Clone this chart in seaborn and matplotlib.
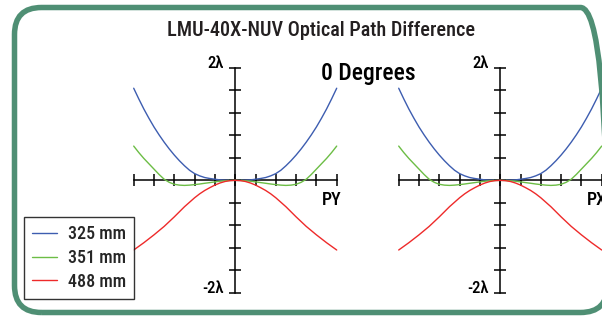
import numpy as np
import pandas as pd
import matplotlib
matplotlib.use("Agg")
import matplotlib.pyplot as plt
import seaborn as sns
from matplotlib.patches import FancyBboxPatch
from matplotlib.lines import Line2D
from matplotlib import font_manager

# ---------------- data ----------------
pupil = [-1.0, -0.95, -0.9, -0.85, -0.8, -0.75, -0.7, -0.65, -0.6, -0.55, -0.5,
         -0.45, -0.4, -0.35, -0.3, -0.25, -0.2, -0.15, -0.1, -0.05, 0.0,
         0.05, 0.1, 0.15, 0.2, 0.25, 0.3, 0.35, 0.4, 0.45, 0.5,
         0.55, 0.6, 0.65, 0.7, 0.75, 0.8, 0.85, 0.9, 0.95, 1.0]
wavelengths = ["325 mm", "351 mm", "488 mm"]
opd_325 = [1.64, 1.45, 1.27, 1.105, 0.95, 0.81, 0.68, 0.56, 0.45, 0.35, 0.26,
           0.18, 0.12, 0.08, 0.05, 0.033, 0.02, 0.008, 0.003, 0.0, 0.0,
           0.0, 0.003, 0.008, 0.02, 0.033, 0.05, 0.08, 0.12, 0.18, 0.26,
           0.35, 0.45, 0.56, 0.68, 0.81, 0.95, 1.105, 1.27, 1.45, 1.64]
opd_351 = [0.61, 0.495, 0.39, 0.295, 0.20, 0.105, 0.02, -0.035, -0.07, -0.085, -0.09,
           -0.085, -0.076, -0.065, -0.052, -0.04, -0.027, -0.016, -0.007, -0.002, 0.0,
           -0.002, -0.007, -0.016, -0.027, -0.04, -0.052, -0.065, -0.076, -0.085, -0.09,
           -0.085, -0.07, -0.035, 0.02, 0.105, 0.20, 0.295, 0.39, 0.495, 0.61]
opd_488 = [-1.24, -1.175, -1.11, -1.04, -0.97, -0.895, -0.82, -0.735, -0.65, -0.56, -0.47,
           -0.39, -0.31, -0.24, -0.18, -0.13, -0.084, -0.047, -0.02, -0.005, 0.0,
           -0.005, -0.02, -0.047, -0.084, -0.13, -0.18, -0.24, -0.31, -0.39, -0.47,
           -0.56, -0.65, -0.735, -0.82, -0.895, -0.97, -1.04, -1.11, -1.175, -1.24]
x_ticks = [-1.0, -0.8, -0.6, -0.4, -0.2, 0.0, 0.2, 0.4, 0.6, 0.8, 1.0]
y_ticks = [-2.0, -1.6, -1.2, -0.8, -0.4, 0.0, 0.4, 0.8, 1.2, 1.6, 2.0]
y_top_label, y_bottom_label = "2λ", "-2λ"
axis_names = ["PY", "PX"]
title = "LMU-40X-NUV Optical Path Difference"
subtitle = "0 Degrees"

colors = {"325 mm": "#3d5db0", "351 mm": "#6cbd45", "488 mm": "#ee2a2a"}

rows = []
for wl, vals in zip(wavelengths, [opd_325, opd_351, opd_488]):
    for p, v in zip(pupil, vals):
        rows.append({"pupil": p, "opd": v, "wl": wl})
df = pd.DataFrame(rows)

# ---------------- figure ----------------
sns.set_style("white")
installed = {f.name for f in font_manager.fontManager.ttflist}
fams = [f for f in ["Liberation Sans Narrow", "Roboto Condensed", "Roboto", "Liberation Sans"] if f in installed]
plt.rcParams["font.family"] = fams + ["DejaVu Sans"]
WT = "medium"

W, H = 602, 317
fig = plt.figure(figsize=(W / 100, H / 100), dpi=100)

def fx(x):
    return x / W

def fy(y):
    return 1 - y / H

# rounded green frame (pixel coordinates)
frame = FancyBboxPatch((14.5, H - 312.5), 593, 305,
                       boxstyle="round,pad=0,rounding_size=27",
                       transform=None, facecolor="none",
                       edgecolor="#4f8f74", linewidth=5.5 * 0.72, zorder=0)
fig.patches.append(frame)

ax_left_px = [133.7, 398.7]
ax_w_px = 203.0
ax_top_px, ax_bot_px = 68.0, 292.7

for i, (axl, name) in enumerate(zip(ax_left_px, axis_names)):
    ax = fig.add_axes([fx(axl), fy(ax_bot_px), ax_w_px / W, (ax_bot_px - ax_top_px) / H])
    ax.set_facecolor("none")
    sns.lineplot(data=df, x="pupil", y="opd", hue="wl", palette=colors,
                 linewidth=1.0, ax=ax, legend=False, sort=True)
    for line in ax.lines:
        line.set_clip_on(False)
    ax.set_xlim(-1, 1)
    ax.set_ylim(-2, 2)
    for s in ["top", "right"]:
        ax.spines[s].set_visible(False)
    ax.spines["left"].set_position(("data", 0))
    ax.spines["bottom"].set_position(("data", 0))
    for s in ["left", "bottom"]:
        ax.spines[s].set_linewidth(1.1)
        ax.spines[s].set_color("black")
        ax.spines[s].set_zorder(1)
    ax.set_xticks(x_ticks)
    ax.set_yticks(y_ticks)
    ax.set_xticklabels([])
    ax.set_yticklabels([])
    ax.tick_params(direction="inout", length=8, width=1.1, color="black",
                   bottom=True, left=True)
    ax.set_xlabel("")
    ax.set_ylabel("")
    cx = axl + ax_w_px / 2
    fig.text(fx(cx - 11), fy(64), y_top_label, ha="right", va="center",
             fontsize=12, color="black", weight=WT)
    fig.text(fx(cx - 11), fy(288.3), y_bottom_label, ha="right", va="center",
             fontsize=12, color="black", weight=WT)
    fig.text(fx(axl + 188), fy(200), name, ha="left", va="center",
             fontsize=13, color="black", weight=WT)

fig.text(fx(321), fy(30), title, ha="center", va="center", fontsize=14.6,
         color="#231f20", weight=WT)
fig.text(fx(368), fy(73.5), subtitle, ha="center", va="center", fontsize=17,
         color="black", weight=WT)

handles = [Line2D([0], [0], color=colors[w], linewidth=1.0) for w in wavelengths]
leg = fig.legend(handles, wavelengths, loc="upper left",
                 bbox_to_anchor=(fx(24), fy(217)), frameon=True, fancybox=False,
                 edgecolor="black", borderaxespad=0,
                 prop={"size": 13, "weight": WT},
                 handlelength=1.35, handletextpad=0.65, labelspacing=0.32,
                 borderpad=0.45)
leg.get_frame().set_linewidth(1.0)

fig.savefig("out.png", dpi=100)
